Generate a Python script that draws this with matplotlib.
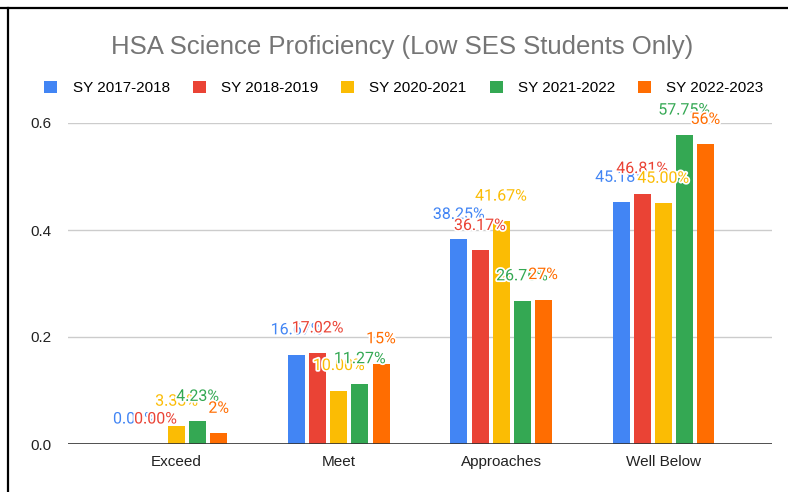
import numpy as np
import matplotlib
matplotlib.use("Agg")
import matplotlib.pyplot as plt
import matplotlib.patheffects as pe
from matplotlib.lines import Line2D

plt.rcParams['font.family'] = ['Liberation Sans', 'DejaVu Sans']

categories = ["Exceed", "Meet", "Approaches", "Well Below"]
series_names = ["SY 2017-2018", "SY 2018-2019", "SY 2020-2021", "SY 2021-2022", "SY 2022-2023"]
colors = ["#4285F4", "#EA4335", "#FBBC04", "#34A853", "#FF6D01"]

sy_2017 = [0.0, 0.1667, 0.3825, 0.4518]
sy_2018 = [0.0, 0.1702, 0.3617, 0.4681]
sy_2020 = [0.0333, 0.10, 0.4167, 0.45]
sy_2021 = [0.0423, 0.1127, 0.2676, 0.5775]
sy_2022 = [0.02, 0.15, 0.27, 0.56]

labels_2017 = ["0.00%", "16.67%", "38.25%", "45.18%"]
labels_2018 = ["0.00%", "17.02%", "36.17%", "46.81%"]
labels_2020 = ["3.33%", "10.00%", "41.67%", "45.00%"]
labels_2021 = ["4.23%", "11.27%", "26.76%", "57.75%"]
labels_2022 = ["2%", "15%", "27%", "56%"]

all_values = [sy_2017, sy_2018, sy_2020, sy_2021, sy_2022]
all_labels = [labels_2017, labels_2018, labels_2020, labels_2021, labels_2022]

fig = plt.figure(figsize=(7.88, 4.92), dpi=100)
ax = fig.add_axes([68/788, 1 - 444/492, (772 - 68)/788, (444 - 123)/492])

x = np.arange(len(categories))
bar_w = 0.105
step = 0.13

for i in range(len(series_names)):
	pos = x + (i - 2) * step
	ax.bar(pos, all_values[i], width=bar_w, color=colors[i], label=series_names[i], zorder=3)
	for j in range(len(categories)):
		ax.annotate(all_labels[i][j], (pos[j], all_values[i][j]), xytext=(0, 18),
			textcoords="offset points", ha="center", va="center", fontsize=11.5,
			family=["Roboto", "DejaVu Sans"],
			color=colors[i], zorder=5, annotation_clip=False,
			path_effects=[pe.withStroke(linewidth=2.5, foreground="white")])

ax.set_xlim(-0.67, 3.67)
ax.set_ylim(0, 0.6)
ax.set_yticks([0, 0.2, 0.4, 0.6])
ax.set_yticklabels(["0.0", "0.2", "0.4", "0.6"])
ax.set_xticks(x)
ax.set_xticklabels(categories)
ax.tick_params(axis="both", length=0, labelsize=11, labelcolor="#222222")
ax.tick_params(axis="y", pad=12)
ax.tick_params(axis="x", pad=8)
ax.grid(axis="y", color="#cccccc", linewidth=1, zorder=0)
ax.set_axisbelow(True)

# make all spines invisible except the zero baseline
for s in ["top", "right", "left", "bottom"]:
	ax.spines[s].set_visible(False)
ax.axhline(0, color="#333333", linewidth=1.2, zorder=4)

fig.text(402/788, 1 - 47/492, "HSA Science Proficiency (Low SES Students Only)",
	ha="center", va="center", fontsize=18.5, color="#757575")

leg = fig.legend(loc="center", bbox_to_anchor=(404/788, 1 - 88/492), ncol=5, frameon=False,
	fontsize=11, handlelength=0.85, handleheight=0.85, handletextpad=1.0, columnspacing=1.5)

# frame lines from the screenshot
fig.add_artist(Line2D([0, 1], [1 - 8/492, 1 - 8/492], color="black", linewidth=1.6, transform=fig.transFigure))
fig.add_artist(Line2D([8/788, 8/788], [0, 1 - 8/492], color="black", linewidth=1.6, transform=fig.transFigure))

plt.savefig("out.png", dpi=100)
